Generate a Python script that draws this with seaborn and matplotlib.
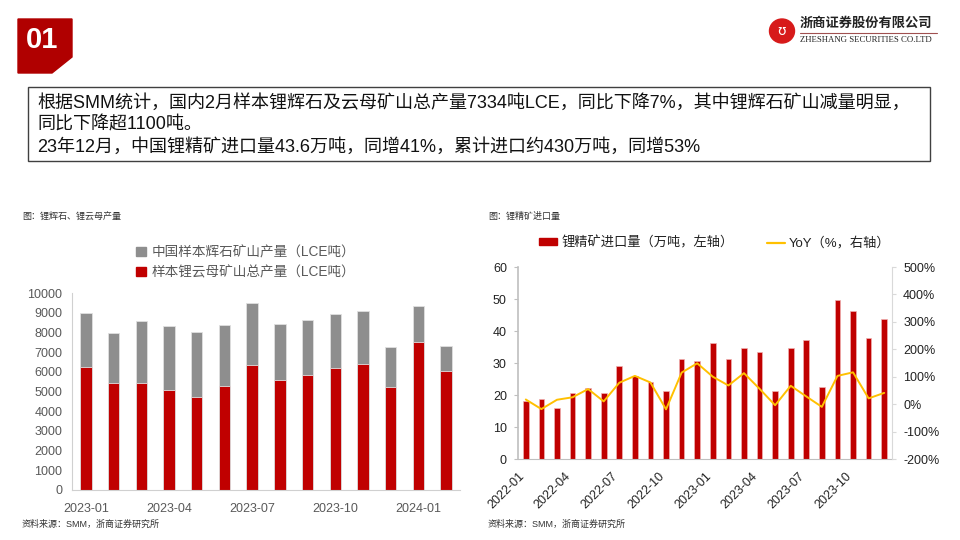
import matplotlib
matplotlib.use("Agg")
import matplotlib.pyplot as plt
import matplotlib.patches as mpatches
from matplotlib.lines import Line2D
import seaborn as sns
import pandas as pd
import numpy as np

# left chart: sample mine output (LCE tonnes)
months_left = ["2023-01", "2023-02", "2023-03", "2023-04", "2023-05", "2023-06", "2023-07",
               "2023-08", "2023-09", "2023-10", "2023-11", "2023-12", "2024-01", "2024-02"]
spodumene = [2750, 2500, 3150, 3250, 3300, 3110, 3180, 2870, 2810, 2770, 2680, 2060, 1850, 1304]
lepidolite = [6250, 5450, 5450, 5100, 4700, 5270, 6320, 5580, 5820, 6180, 6400, 5220, 7500, 6030]

# right chart: lithium concentrate imports (10k t) and YoY (%)
months_right = ["2022-01", "2022-02", "2022-03", "2022-04", "2022-05", "2022-06",
                "2022-07", "2022-08", "2022-09", "2022-10", "2022-11", "2022-12",
                "2023-01", "2023-02", "2023-03", "2023-04", "2023-05", "2023-06",
                "2023-07", "2023-08", "2023-09", "2023-10", "2023-11", "2023-12"]
imports = [18.0, 18.6, 16.0, 20.7, 22.3, 20.5, 29.2, 25.8, 24.2, 21.3, 31.4, 30.7,
           36.4, 31.4, 34.6, 33.3, 21.1, 34.6, 37.2, 22.6, 49.8, 46.4, 37.7, 43.6]
yoy = [17, -18, 16, 25, 55, 10, 78, 103, 79, -19, 115, 149,
       100, 68, 113, 56, -4, 67, 28, -10, 103, 116, 21, 41]

RED = "#C00000"
GRAY = "#8E8E8E"
YELLOW = "#FFC000"
TXT = "#595959"

sns.set_style("white")
plt.rcParams["font.family"] = ["Liberation Sans", "Noto Sans CJK SC"]

fig = plt.figure(figsize=(9.6, 5.4), dpi=100)

def fx(px):
    return px / 960

def fy(py):
    return 1 - py / 540

# header block "01"
box = mpatches.Polygon([(fx(18), fy(19)), (fx(72), fy(19)), (fx(72), fy(57)),
                        (fx(52), fy(73)), (fx(18), fy(73))],
                       closed=True, transform=fig.transFigure, color="#B00000")
fig.patches.append(box)
fig.text(fx(42), fy(40), "01", color="white", fontsize=21, fontweight="bold",
         ha="center", va="center")

# logo
logo = mpatches.Ellipse((fx(782), fy(31)), 25 / 960, 24 / 540, transform=fig.transFigure,
                        color="#D71A1A")
fig.patches.append(logo)
fig.text(fx(782), fy(31), "ʊ", color="white", fontsize=10, ha="center", va="center",
         family=["DejaVu Sans"])
fig.text(fx(800), fy(24), "浙商证券股份有限公司", fontsize=9.5, fontweight="bold",
         ha="left", va="center", color="#222222")
fig.add_artist(Line2D([fx(800), fx(937)], [fy(33), fy(33)], color="#A05050", lw=0.8))
fig.text(fx(800), fy(39.5), "ZHESHANG SECURITIES CO.LTD", fontsize=6.3, ha="left",
         va="center", color="#222222", family=["Liberation Serif"])

# text box
frame = mpatches.Rectangle((fx(28), fy(161)), fx(930) - fx(28), fy(87) - fy(161),
                           transform=fig.transFigure, fill=False, edgecolor="#404040", lw=1)
fig.patches.append(frame)
body = ["根据SMM统计，国内2月样本锂辉石及云母矿山总产量7334吨LCE，同比下降7%，其中锂辉石矿山减量明显，",
        "同比下降超1100吨。",
        "23年12月，中国锂精矿进口量43.6万吨，同增41%，累计进口约430万吨，同增53%"]
for i, line in enumerate(body):
    fig.text(fx(37), fy(103 + 22 * i), line, fontsize=13, ha="left", va="center",
             color="#111111")

# ---------------- left chart ----------------
ax1 = fig.add_axes([fx(72), fy(490), fx(460) - fx(72), fy(293) - fy(490)])
df_left = pd.DataFrame({"month": months_left, "spodumene": spodumene, "lepidolite": lepidolite})
df_left["total"] = df_left["spodumene"] + df_left["lepidolite"]

sns.barplot(data=df_left, x="month", y="total", color=GRAY, saturation=1, width=0.41,
            edgecolor="#E0E0E0", linewidth=0.6, ax=ax1)
sns.barplot(data=df_left, x="month", y="lepidolite", color=RED, saturation=1, width=0.41,
            edgecolor="#E0E0E0", linewidth=0.6, ax=ax1)

ax1.set_xlim(-0.5, len(months_left) - 0.5)
ax1.set_ylim(0, 10000)
ax1.set_yticks(range(0, 10001, 1000))
ax1.set_xticks(range(0, len(months_left), 3))
ax1.set_xticklabels([months_left[i] for i in range(0, len(months_left), 3)])
ax1.set_xticks(np.arange(-0.5, len(months_left), 3), minor=True)
ax1.tick_params(axis="x", which="major", length=0, labelsize=9, labelcolor=TXT, pad=9)
ax1.tick_params(axis="x", which="minor", length=4, color="#BFBFBF", direction="out")
ax1.tick_params(axis="y", length=3, color="#BFBFBF", labelsize=9, labelcolor=TXT, pad=4)
ax1.set_xlabel("")
ax1.set_ylabel("")
for s in ["top", "right"]:
    ax1.spines[s].set_visible(False)
for s in ["left", "bottom"]:
    ax1.spines[s].set_color("#D0D0D0")
    ax1.spines[s].set_linewidth(0.8)

h1 = [mpatches.Patch(color=GRAY), mpatches.Patch(color=RED)]
ax1.legend(h1, ["中国样本辉石矿山产量（LCE吨）", "样本锂云母矿山总产量（LCE吨）"],
           loc="upper left", bbox_to_anchor=(fx(124), fy(233)), bbox_transform=fig.transFigure,
           frameon=False, fontsize=9.8, handlelength=0.7, handleheight=0.7,
           handletextpad=0.4, labelspacing=0.45, labelcolor=TXT)

fig.text(fx(22), fy(216), "图：锂辉石、锂云母产量", fontsize=6.5, ha="left", va="center",
         color="#333333")
fig.text(fx(22), fy(524), "资料来源：SMM，浙商证券研究所", fontsize=6.5, ha="left", va="center",
         color="#333333")

# ---------------- right chart ----------------
ax2 = fig.add_axes([fx(518), fy(459), fx(892) - fx(518), fy(267) - fy(459)])
df_right = pd.DataFrame({"month": months_right, "imports": imports, "yoy": yoy})
df_right["pos"] = np.arange(len(months_right))

sns.barplot(data=df_right, x="month", y="imports", color=RED, saturation=1, width=0.36,
            edgecolor="#F0B0B0", linewidth=0.5, ax=ax2)
ax2.set_xlim(-0.5, len(months_right) - 0.5)
ax2.set_ylim(0, 60)
ax2.set_yticks(range(0, 61, 10))
xt = np.arange(-0.5, len(months_right), 3)
xl = [months_right[i] for i in range(0, len(months_right), 3)] + [""]
ax2.set_xticks(xt)
ax2.set_xticklabels(xl[:len(xt)], rotation=45, ha="right", rotation_mode="anchor")
ax2.tick_params(axis="x", length=4, color="#BFBFBF", labelsize=9, labelcolor="#222222", pad=4)
ax2.tick_params(axis="y", length=3, color="#BFBFBF", labelsize=9, labelcolor="#222222", pad=5)
ax2.set_xlabel("")
ax2.set_ylabel("")
ax2.spines["top"].set_visible(False)
ax2.spines["right"].set_visible(False)
ax2.spines["left"].set_color("#BFBFBF")
ax2.spines["bottom"].set_color("#BFBFBF")
ax2.spines["left"].set_linewidth(1.2)

ax3 = ax2.twinx()
sns.lineplot(data=df_right, x="pos", y="yoy", color=YELLOW, linewidth=1.4, ax=ax3)
ax3.set_ylim(-200, 500)
ax3.set_yticks(range(-200, 501, 100))
ax3.set_yticklabels([f"{v}%" for v in range(-200, 501, 100)])
ax3.set_xlim(-0.5, len(months_right) - 0.5)
ax3.set_ylabel("")
ax3.tick_params(axis="y", length=3, color="#D9D9D9", labelsize=9, labelcolor="#222222", pad=5)
ax3.spines["top"].set_visible(False)
ax3.spines["left"].set_visible(False)
ax3.spines["bottom"].set_visible(False)
ax3.spines["right"].set_color("#D9D9D9")

h2 = [mpatches.Patch(color=RED), Line2D([0], [0], color=YELLOW, lw=1.6)]
fig.legend(h2, ["锂精矿进口量（万吨，左轴）", "YoY（%，右轴）"], loc="center left",
           bbox_to_anchor=(fx(527), fy(243)), frameon=False, fontsize=9.5, ncol=2,
           handlelength=1.4, handleheight=0.45, handletextpad=0.3, columnspacing=2.5,
           labelcolor="#222222")

fig.text(fx(488), fy(216), "图：锂精矿进口量", fontsize=6.5, ha="left", va="center",
         color="#333333")
fig.text(fx(488), fy(524), "资料来源：SMM，浙商证券研究所", fontsize=6.5, ha="left", va="center",
         color="#333333")

fig.savefig("out.png", dpi=100, facecolor="white")
